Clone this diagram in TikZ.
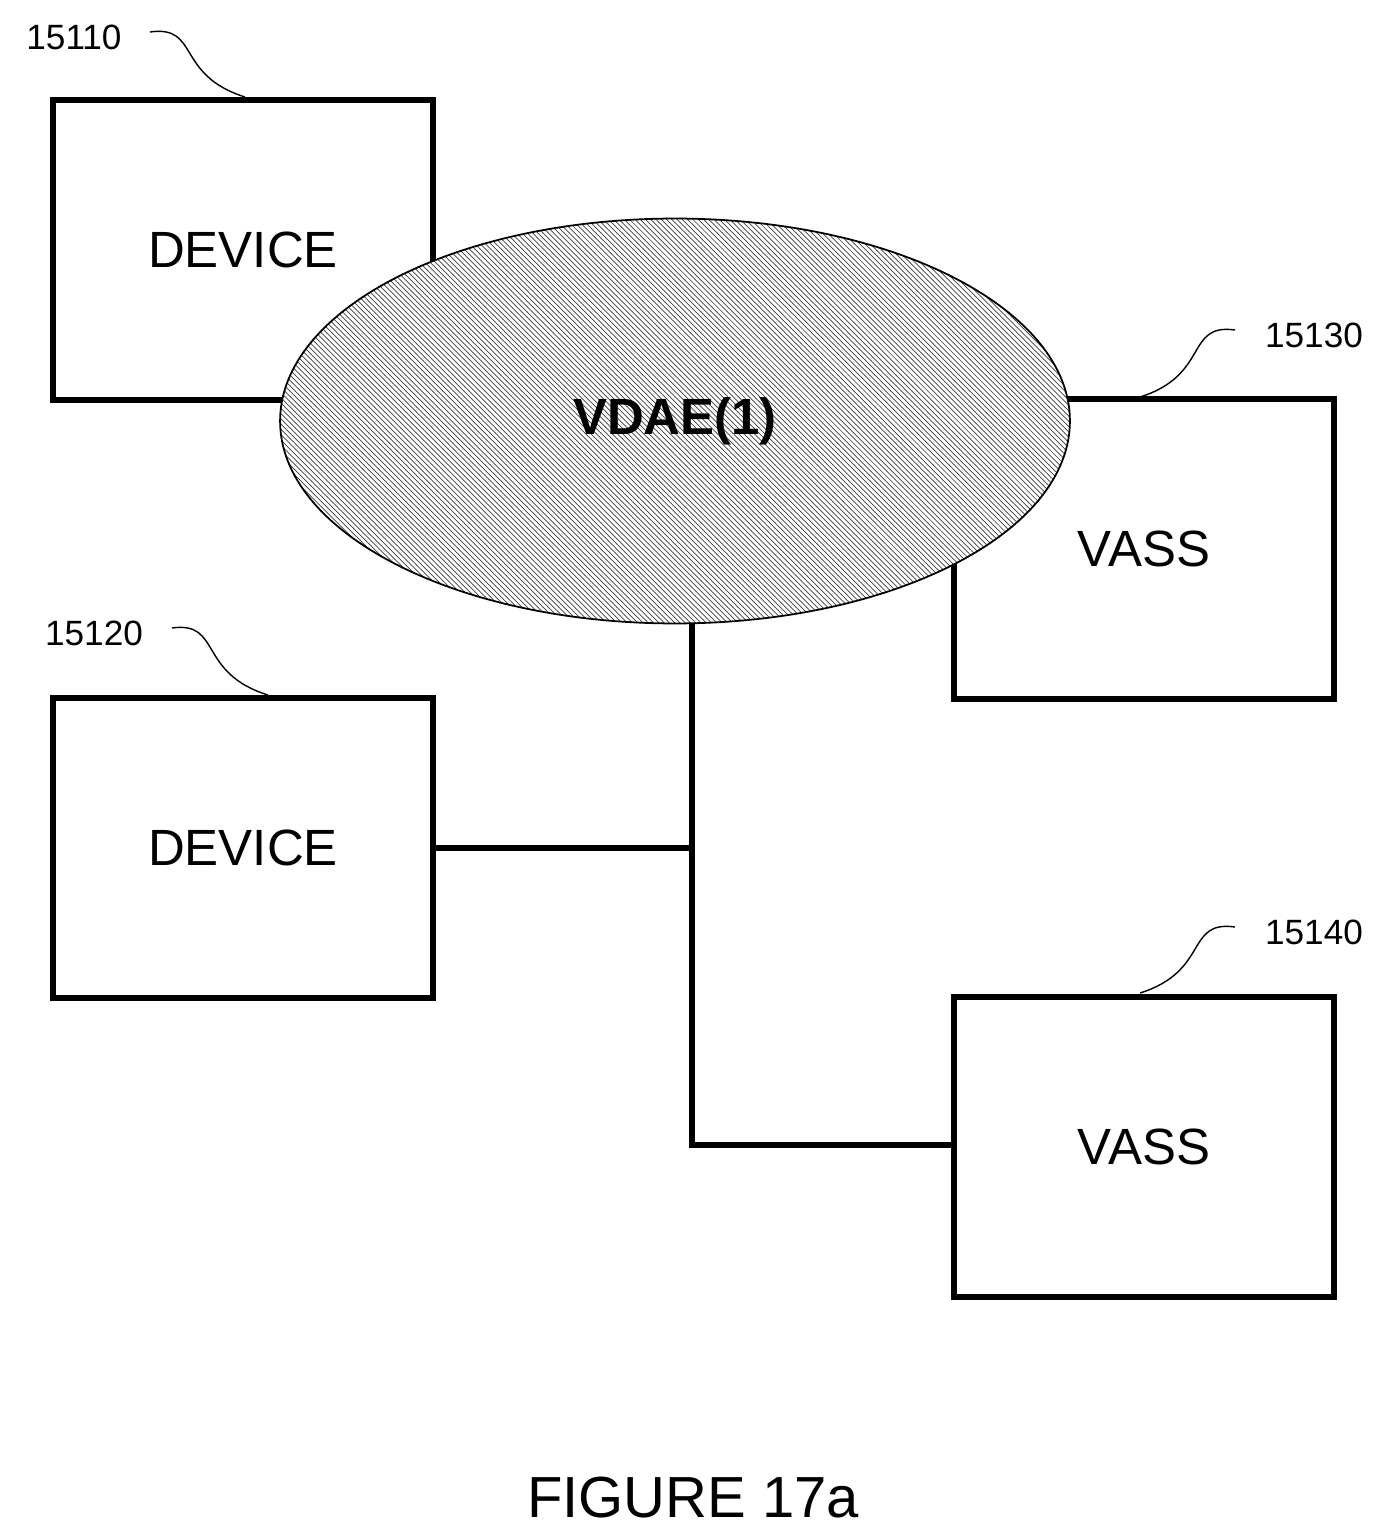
\documentclass[tikz,border=0pt]{standalone}
\usepackage{fontspec}
\setmainfont{Liberation Sans}
\usetikzlibrary{patterns,shapes.geometric}
\begin{document}
\begin{tikzpicture}[x=0.02cm,y=-0.02cm,
  box/.style={draw,line width=3.4pt,rectangle,minimum width=7.6cm,minimum height=6cm,font=\fontsize{29}{34}\selectfont},
  wire/.style={line width=3.4pt},
  lbl/.style={font=\fontsize{20}{24}\selectfont},
  lead/.style={line width=0.8pt}]
\useasboundingbox (0,0) rectangle (1391,1540);
\node[box] (d1) at (243,250) {DEVICE};
\node[box] (d2) at (243,848) {DEVICE};
\node[box] (v1) at (1144,549) {VASS};
\node[box] (v2) at (1144,1147) {VASS};
\node[ellipse,draw,line width=1pt,minimum width=15.8cm,minimum height=8.1cm,
  preaction={fill=white},pattern=north west lines,pattern color=black!75,
  font=\bfseries\fontsize{29}{34}\selectfont] (e) at (675,421) {VDAE(1)};
\coordinate (j1) at (692,848);
\coordinate (j2) at (692,1145);
\draw[wire] (e.south -| j1) -- (j1) -- (j2) -- (v2.west |- j2);
\draw[wire] (d2.east) -- (j1);
\node[lbl] (l1) at (74,37) {15110};
\node[lbl] (l2) at (94,633) {15120};
\node[lbl] (l3) at (1314,335) {15130};
\node[lbl] (l4) at (1314,932) {15140};
\draw[lead] (150,32) .. controls (200,25) and (175,75) .. (245,97);
\draw[lead] (172,628) .. controls (222,621) and (197,673) .. (268,695);
\draw[lead] (1235,330) .. controls (1185,323) and (1210,375) .. (1140,397);
\draw[lead] (1235,927) .. controls (1185,920) and (1210,971) .. (1140,993);
\node[font=\fontsize{33}{40}\selectfont] (cap) at (693,1498) {FIGURE 17a};
\end{tikzpicture}
\end{document}
